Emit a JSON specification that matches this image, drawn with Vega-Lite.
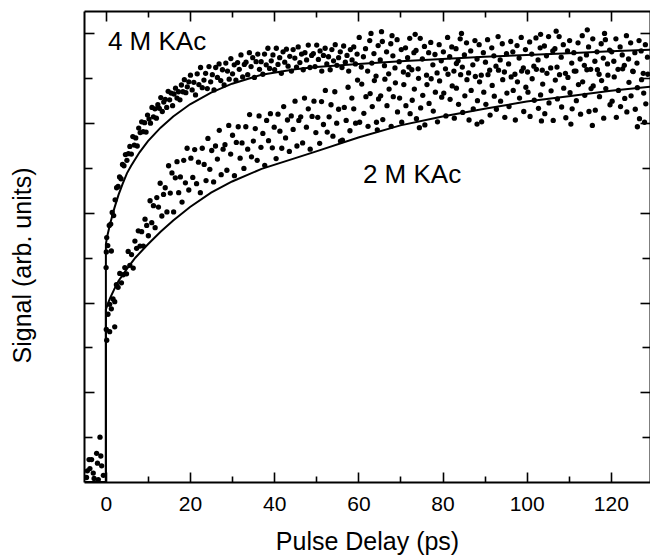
{
"$schema": "https://vega.github.io/schema/vega-lite/v6.json",
"width": 566, "height": 471,
"autosize": {"type": "none"},
"padding": {"left": 84, "top": 11, "right": 0, "bottom": 76},
"background": "white",
"config": {"view": {"stroke": null}, "font": "Liberation Sans",
 "axis": {"domainColor": "black", "domainWidth": 2, "tickColor": "black", "tickWidth": 1.6, "grid": false, "labelColor": "black", "titleColor": "black", "titleFontWeight": "normal", "labelFont": "Liberation Sans", "titleFont": "Liberation Sans"}},
"datasets": {
"fits": [
{"s":"4M","t":-5.5,"v":0},{"s":"4M","t":0,"v":0},{"s":"4M","t":0,"v":5.3},{"s":"4M","t":0.25,"v":5.45},{"s":"4M","t":0.5,"v":5.55},{"s":"4M","t":1,"v":5.75},{"s":"4M","t":2,"v":6.1},{"s":"4M","t":3,"v":6.4},{"s":"4M","t":4,"v":6.65},{"s":"4M","t":5,"v":6.88},{"s":"4M","t":6,"v":7.05},{"s":"4M","t":8,"v":7.35},{"s":"4M","t":10,"v":7.6},{"s":"4M","t":13,"v":7.9},{"s":"4M","t":16,"v":8.15},{"s":"4M","t":20,"v":8.42},{"s":"4M","t":25,"v":8.68},{"s":"4M","t":30,"v":8.88},{"s":"4M","t":37,"v":9.08},{"s":"4M","t":45,"v":9.2},{"s":"4M","t":50,"v":9.25},{"s":"4M","t":60,"v":9.32},{"s":"4M","t":70,"v":9.38},{"s":"4M","t":80,"v":9.43},{"s":"4M","t":90,"v":9.48},{"s":"4M","t":100,"v":9.52},{"s":"4M","t":110,"v":9.56},{"s":"4M","t":120,"v":9.6},{"s":"4M","t":130,"v":9.64},
{"s":"2M","t":-5.5,"v":0},{"s":"2M","t":0,"v":0},{"s":"2M","t":0,"v":3.85},{"s":"2M","t":0.5,"v":3.98},{"s":"2M","t":1,"v":4.1},{"s":"2M","t":2,"v":4.3},{"s":"2M","t":3,"v":4.48},{"s":"2M","t":5,"v":4.75},{"s":"2M","t":7,"v":5.0},{"s":"2M","t":10,"v":5.3},{"s":"2M","t":13,"v":5.58},{"s":"2M","t":16,"v":5.83},{"s":"2M","t":20,"v":6.13},{"s":"2M","t":25,"v":6.45},{"s":"2M","t":30,"v":6.7},{"s":"2M","t":37,"v":6.98},{"s":"2M","t":45,"v":7.22},{"s":"2M","t":50,"v":7.37},{"s":"2M","t":60,"v":7.68},{"s":"2M","t":70,"v":7.95},{"s":"2M","t":80,"v":8.15},{"s":"2M","t":90,"v":8.32},{"s":"2M","t":100,"v":8.48},{"s":"2M","t":110,"v":8.6},{"s":"2M","t":120,"v":8.72},{"s":"2M","t":130,"v":8.82}
],
"m4": [
{"t":-4.6,"v":0.1},{"t":-4.4,"v":0.25},{"t":-4.0,"v":0.5},{"t":-3.8,"v":0.3},{"t":-3.4,"v":0.5},{"t":-3.0,"v":0.2},{"t":-2.8,"v":0.08},{"t":-2.2,"v":0.64},{"t":-2.0,"v":0.42},{"t":-1.8,"v":0.05},{"t":-1.4,"v":1.0},{"t":-1.2,"v":0.58},{"t":-1.0,"v":0.36},{"t":-0.6,"v":0.15},
{"t":0.05,"v":4.78},{"t":0.2,"v":5.45},{"t":1.3,"v":5.15},
{"t":0.1,"v":5.13},{"t":0.45,"v":5.27},{"t":0.8,"v":5.72},{"t":1.15,"v":5.75},{"t":1.5,"v":6.01},{"t":1.85,"v":5.94},{"t":2.2,"v":6.29},{"t":2.55,"v":6.56},{"t":2.9,"v":6.59},{"t":3.25,"v":6.8},{"t":3.6,"v":6.76},{"t":3.95,"v":7.08},{"t":4.3,"v":7.05},{"t":4.65,"v":7.3},{"t":5.0,"v":7.17},{"t":5.35,"v":7.32},{"t":5.7,"v":7.48},{"t":6.05,"v":7.31},{"t":6.4,"v":7.7},{"t":6.75,"v":7.51},{"t":7.1,"v":7.67},{"t":7.45,"v":7.49},{"t":7.8,"v":7.89},{"t":8.15,"v":7.79},{"t":8.5,"v":8.03},{"t":8.85,"v":7.81},{"t":9.2,"v":8.01},{"t":9.55,"v":7.8},{"t":9.9,"v":8.18},{"t":10.25,"v":8.09},{"t":10.6,"v":8.0},{"t":10.95,"v":8.35},{"t":11.3,"v":8.14},{"t":11.65,"v":8.32},{"t":12.0,"v":8.11},{"t":12.35,"v":8.41},{"t":12.7,"v":8.33},{"t":13.05,"v":8.57},{"t":13.4,"v":8.26},{"t":13.75,"v":8.47},{"t":14.1,"v":8.53},{"t":14.45,"v":8.35},{"t":14.8,"v":8.71},{"t":15.15,"v":8.52},{"t":15.5,"v":8.67},{"t":15.85,"v":8.39},{"t":16.2,"v":8.65},{"t":16.55,"v":8.78},{"t":16.9,"v":8.56},{"t":17.25,"v":8.7},{"t":17.6,"v":8.52},{"t":17.95,"v":8.85},{"t":18.3,"v":8.7},{"t":18.65,"v":8.97},{"t":19.0,"v":8.68},{"t":19.35,"v":8.81},{"t":19.7,"v":8.92},
{"t":20.1,"v":9.07},{"t":20.5,"v":8.74},{"t":20.9,"v":8.91},{"t":21.3,"v":8.63},{"t":21.7,"v":9.1},{"t":22.1,"v":8.86},{"t":22.5,"v":9.24},{"t":22.9,"v":8.79},{"t":23.3,"v":8.96},{"t":23.7,"v":9.11},{"t":24.1,"v":8.77},{"t":24.5,"v":9.26},{"t":24.9,"v":8.92},{"t":25.3,"v":9.08},{"t":25.7,"v":8.74},{"t":26.1,"v":9.24},{"t":26.5,"v":9.02},{"t":26.9,"v":9.32},{"t":27.3,"v":8.95},{"t":27.7,"v":9.19},{"t":28.1,"v":8.85},{"t":28.5,"v":9.34},{"t":28.9,"v":9.16},{"t":29.3,"v":8.98},{"t":29.7,"v":9.44},{"t":30.1,"v":9.1},{"t":30.5,"v":9.3},{"t":30.9,"v":8.96},{"t":31.3,"v":9.35},{"t":31.7,"v":9.2},{"t":32.1,"v":9.52},{"t":32.5,"v":9.03},{"t":32.9,"v":9.31},{"t":33.3,"v":9.36},{"t":33.7,"v":9.08},{"t":34.1,"v":9.57},{"t":34.5,"v":9.26},{"t":34.9,"v":9.46},{"t":35.3,"v":9.02},{"t":35.7,"v":9.37},{"t":36.1,"v":9.54},{"t":36.5,"v":9.2},{"t":36.9,"v":9.37},{"t":37.3,"v":9.09},{"t":37.7,"v":9.54},{"t":38.1,"v":9.3},{"t":38.5,"v":9.67},{"t":38.9,"v":9.22},{"t":39.3,"v":9.39},{"t":39.7,"v":9.52},{"t":40.1,"v":9.19},{"t":40.5,"v":9.67},{"t":40.9,"v":9.31},{"t":41.3,"v":9.46},{"t":41.7,"v":9.11},{"t":42.1,"v":9.59},{"t":42.5,"v":9.36},{"t":42.9,"v":9.65},{"t":43.3,"v":9.27},{"t":43.7,"v":9.49},{"t":44.1,"v":9.16},{"t":44.5,"v":9.64},{"t":44.9,"v":9.45},{"t":45.3,"v":9.25},{"t":45.7,"v":9.7},{"t":46.1,"v":9.35},{"t":46.5,"v":9.54},{"t":46.9,"v":9.19},{"t":47.3,"v":9.57},{"t":47.7,"v":9.41},{"t":48.1,"v":9.74},{"t":48.5,"v":9.24},{"t":48.9,"v":9.51},{"t":49.3,"v":9.55},{"t":49.7,"v":9.26},{"t":50.1,"v":9.74},{"t":50.5,"v":9.42},{"t":50.9,"v":9.61},{"t":51.3,"v":9.16},{"t":51.7,"v":9.51},{"t":52.1,"v":9.67},{"t":52.5,"v":9.32},{"t":52.9,"v":9.48},{"t":53.3,"v":9.19},{"t":53.7,"v":9.64},{"t":54.1,"v":9.39},{"t":54.5,"v":9.75},{"t":54.9,"v":9.29},{"t":55.3,"v":9.46},{"t":55.7,"v":9.59},{"t":56.1,"v":9.24},{"t":56.5,"v":9.72},{"t":56.9,"v":9.36},{"t":57.3,"v":9.51},{"t":57.7,"v":9.16},{"t":58.1,"v":9.64},{"t":58.5,"v":9.41},{"t":58.9,"v":9.7},{"t":59.3,"v":9.32},{"t":59.7,"v":9.54},
{"t":60.2,"v":9.91},{"t":60.7,"v":9.25},{"t":61.2,"v":9.48},{"t":61.7,"v":9.66},{"t":62.2,"v":9.16},{"t":62.7,"v":9.84},{"t":63.2,"v":9.34},{"t":63.7,"v":9.55},{"t":64.2,"v":9.05},{"t":64.7,"v":9.73},{"t":65.2,"v":9.41},{"t":65.7,"v":9.82},{"t":66.2,"v":9.28},{"t":66.7,"v":9.59},{"t":67.2,"v":9.1},{"t":67.7,"v":9.77},{"t":68.2,"v":9.5},{"t":68.7,"v":9.23},{"t":69.2,"v":9.86},{"t":69.7,"v":9.37},{"t":70.2,"v":9.64},{"t":70.7,"v":9.14},{"t":71.2,"v":9.68},{"t":71.7,"v":9.46},{"t":72.2,"v":9.89},{"t":72.7,"v":9.19},{"t":73.2,"v":9.57},{"t":73.7,"v":9.62},{"t":74.2,"v":9.21},{"t":74.7,"v":9.89},{"t":75.2,"v":9.43},{"t":75.7,"v":9.71},{"t":76.2,"v":9.07},{"t":76.7,"v":9.57},{"t":77.2,"v":9.8},{"t":77.7,"v":9.3},{"t":78.2,"v":9.53},{"t":78.7,"v":9.12},{"t":79.2,"v":9.75},{"t":79.7,"v":9.39},
{"t":80.2,"v":9.59},{"t":80.7,"v":9.21},{"t":81.2,"v":9.91},{"t":81.7,"v":9.48},{"t":82.2,"v":9.7},{"t":82.7,"v":9.16},{"t":83.2,"v":9.66},{"t":83.7,"v":9.39},{"t":84.2,"v":9.88},{"t":84.7,"v":9.25},{"t":85.2,"v":9.52},{"t":85.7,"v":9.79},{"t":86.2,"v":9.12},{"t":86.7,"v":9.61},{"t":87.2,"v":9.3},{"t":87.7,"v":9.84},{"t":88.2,"v":9.43},{"t":88.7,"v":9.75},{"t":89.2,"v":9.07},{"t":89.7,"v":9.57},{"t":90.2,"v":9.36},{"t":90.7,"v":9.86},{"t":91.2,"v":9.18},{"t":91.7,"v":9.68},{"t":92.2,"v":9.5},{"t":92.7,"v":9.27},{"t":93.2,"v":9.93},{"t":93.7,"v":9.41},{"t":94.2,"v":9.77},{"t":94.7,"v":9.14},{"t":95.2,"v":9.55},{"t":95.7,"v":9.32},{"t":96.2,"v":9.82},{"t":96.7,"v":9.59},{"t":97.2,"v":9.09},{"t":97.7,"v":9.73},{"t":98.2,"v":9.45},{"t":98.7,"v":9.91},{"t":99.2,"v":9.23},{"t":99.7,"v":9.64},
{"t":100.2,"v":9.14},{"t":100.7,"v":9.81},{"t":101.2,"v":9.54},{"t":101.7,"v":9.27},{"t":102.2,"v":9.9},{"t":102.7,"v":9.41},{"t":103.2,"v":9.68},{"t":103.7,"v":9.18},{"t":104.2,"v":9.72},{"t":104.7,"v":9.5},{"t":105.2,"v":9.93},{"t":105.7,"v":9.23},{"t":106.2,"v":9.61},{"t":106.7,"v":9.66},{"t":107.2,"v":9.25},{"t":107.7,"v":9.93},{"t":108.2,"v":9.47},{"t":108.7,"v":9.75},{"t":109.2,"v":9.11},{"t":109.7,"v":9.61},{"t":110.2,"v":9.84},{"t":110.7,"v":9.34},{"t":111.2,"v":9.57},{"t":111.7,"v":9.16},{"t":112.2,"v":9.79},{"t":112.7,"v":9.43},{"t":113.2,"v":9.95},{"t":113.7,"v":9.29},{"t":114.2,"v":9.52},{"t":114.7,"v":9.7},{"t":115.2,"v":9.2},{"t":115.7,"v":9.88},{"t":116.2,"v":9.38},{"t":116.7,"v":9.59},{"t":117.2,"v":9.09},{"t":117.7,"v":9.77},{"t":118.2,"v":9.45},{"t":118.7,"v":9.86},{"t":119.2,"v":9.32},{"t":119.7,"v":9.63},
{"t":120.2,"v":9.59},{"t":120.7,"v":9.38},{"t":121.2,"v":9.88},{"t":121.7,"v":9.2},{"t":122.2,"v":9.7},{"t":122.7,"v":9.52},{"t":123.2,"v":9.29},{"t":123.7,"v":9.95},{"t":124.2,"v":9.43},{"t":124.7,"v":9.79},{"t":125.2,"v":9.16},{"t":125.7,"v":9.57},{"t":126.2,"v":9.34},{"t":126.7,"v":9.84},{"t":127.2,"v":9.61},{"t":127.7,"v":9.11},{"t":128.2,"v":9.75},{"t":128.7,"v":9.47},
{"t":63.0,"v":10.0},{"t":65.5,"v":10.04},{"t":68.0,"v":9.95},{"t":73.5,"v":9.98},{"t":84.5,"v":10.0},{"t":103.3,"v":9.98},{"t":107.0,"v":10.05},{"t":114.4,"v":10.08},{"t":118.5,"v":10.0}
],
"m2": [
{"t":0.2,"v":3.16},{"t":0.9,"v":3.35},{"t":2.1,"v":3.46},
{"t":0.1,"v":3.4},{"t":0.5,"v":3.74},{"t":0.9,"v":3.96},{"t":1.3,"v":3.86},{"t":1.7,"v":4.08},{"t":2.1,"v":4.02},{"t":2.5,"v":4.4},{"t":2.9,"v":4.34},{"t":3.3,"v":4.65},{"t":3.7,"v":4.44},{"t":4.1,"v":4.62},{"t":4.5,"v":4.78},{"t":4.9,"v":4.64},{"t":5.3,"v":5.14},{"t":5.7,"v":4.83},{"t":6.1,"v":5.07},{"t":6.5,"v":4.77},{"t":6.9,"v":5.37},{"t":7.3,"v":5.21},{"t":7.7,"v":5.6},{"t":8.1,"v":5.26},{"t":8.5,"v":5.58},{"t":8.9,"v":5.26},{"t":9.3,"v":5.86},{"t":9.7,"v":5.72},{"t":10.1,"v":5.49},{"t":10.5,"v":6.27},{"t":10.9,"v":5.78},{"t":11.3,"v":6.16},{"t":11.7,"v":5.67},{"t":12.1,"v":6.34},{"t":12.5,"v":6.13},{"t":12.9,"v":6.66},{"t":13.3,"v":5.93},{"t":13.7,"v":6.41},{"t":14.1,"v":6.56},{"t":14.5,"v":6.02},{"t":14.9,"v":7.05},{"t":15.3,"v":6.44},{"t":15.7,"v":6.89},{"t":16.1,"v":6.02},{"t":16.5,"v":6.78},{"t":16.9,"v":7.14},{"t":17.3,"v":6.45},{"t":17.7,"v":6.8},{"t":18.1,"v":6.24},{"t":18.5,"v":7.17},{"t":18.9,"v":6.67},{"t":19.3,"v":7.44},{"t":19.7,"v":6.51},
{"t":20.2,"v":7.22},{"t":20.65,"v":6.79},{"t":21.1,"v":7.41},{"t":21.55,"v":6.65},{"t":22.0,"v":7.13},{"t":22.45,"v":6.45},{"t":22.9,"v":7.44},{"t":23.35,"v":7.08},{"t":23.8,"v":6.72},{"t":24.25,"v":7.66},{"t":24.7,"v":6.97},{"t":25.15,"v":7.39},{"t":25.6,"v":6.69},{"t":26.05,"v":7.49},{"t":26.5,"v":7.2},{"t":26.95,"v":7.84},{"t":27.4,"v":6.85},{"t":27.85,"v":7.42},{"t":28.3,"v":7.52},{"t":28.75,"v":6.95},{"t":29.2,"v":7.95},{"t":29.65,"v":7.31},{"t":30.1,"v":7.73},{"t":30.55,"v":6.83},{"t":31.0,"v":7.57},{"t":31.45,"v":7.92},{"t":31.9,"v":7.22},{"t":32.35,"v":7.56},{"t":32.8,"v":6.99},{"t":33.25,"v":7.92},{"t":33.7,"v":7.42},{"t":34.15,"v":8.19},{"t":34.6,"v":7.25},{"t":35.05,"v":7.6},{"t":35.5,"v":7.88},{"t":35.95,"v":7.17},{"t":36.4,"v":8.16},{"t":36.85,"v":7.46},{"t":37.3,"v":7.77},{"t":37.75,"v":7.06},{"t":38.2,"v":8.06},{"t":38.65,"v":7.61},{"t":39.1,"v":8.21},{"t":39.55,"v":7.45},{"t":40.0,"v":7.91},{"t":40.45,"v":7.21},{"t":40.9,"v":8.2},{"t":41.35,"v":7.82},{"t":41.8,"v":7.44},{"t":42.25,"v":8.37},{"t":42.7,"v":7.67},{"t":43.15,"v":8.07},{"t":43.6,"v":7.37},{"t":44.05,"v":8.16},{"t":44.5,"v":7.86},{"t":44.95,"v":8.49},{"t":45.4,"v":7.49},{"t":45.85,"v":8.06},{"t":46.3,"v":8.14},{"t":46.75,"v":7.56},{"t":47.2,"v":8.56},{"t":47.65,"v":7.91},{"t":48.1,"v":8.32},{"t":48.55,"v":7.42},{"t":49.0,"v":8.15},{"t":49.45,"v":8.49},{"t":49.9,"v":7.79},{"t":50.35,"v":8.13},{"t":50.8,"v":7.55},{"t":51.25,"v":8.48},{"t":51.7,"v":7.97},{"t":52.15,"v":8.73},{"t":52.6,"v":7.8},{"t":53.05,"v":8.14},{"t":53.5,"v":8.41},{"t":53.95,"v":7.71},{"t":54.4,"v":8.7},{"t":54.85,"v":8.0},{"t":55.3,"v":8.31},{"t":55.75,"v":7.6},{"t":56.2,"v":7.62},{"t":56.65,"v":8.35},{"t":57.1,"v":8.06},{"t":57.55,"v":8.8},{"t":58.0,"v":7.83},{"t":58.45,"v":8.56},{"t":58.9,"v":8.32},{"t":59.35,"v":8.0},{"t":59.8,"v":8.96},
{"t":60.3,"v":8.02},{"t":60.8,"v":8.87},{"t":61.3,"v":8.22},{"t":61.8,"v":8.59},{"t":62.3,"v":7.93},{"t":62.8,"v":8.66},{"t":63.3,"v":8.37},{"t":63.8,"v":8.95},{"t":64.3,"v":8.02},{"t":64.8,"v":8.54},{"t":65.3,"v":8.61},{"t":65.8,"v":8.08},{"t":66.3,"v":8.98},{"t":66.8,"v":8.39},{"t":67.3,"v":8.76},{"t":67.8,"v":7.93},{"t":68.3,"v":8.59},{"t":68.8,"v":8.9},{"t":69.3,"v":8.25},{"t":69.8,"v":8.56},{"t":70.3,"v":8.02},{"t":70.8,"v":8.86},{"t":71.3,"v":8.39},{"t":71.8,"v":9.08},{"t":72.3,"v":8.21},{"t":72.8,"v":8.51},{"t":73.3,"v":8.76},{"t":73.8,"v":8.1},{"t":74.3,"v":9.0},{"t":74.8,"v":8.34},{"t":75.3,"v":8.62},{"t":75.8,"v":7.96},{"t":76.3,"v":8.86},{"t":76.8,"v":8.44},{"t":77.3,"v":8.99},{"t":77.8,"v":8.27},{"t":78.3,"v":8.69},{"t":78.8,"v":8.03},{"t":79.3,"v":8.94},{"t":79.8,"v":8.58},
{"t":80.3,"v":8.67},{"t":80.8,"v":8.16},{"t":81.3,"v":9.09},{"t":81.8,"v":8.53},{"t":82.3,"v":8.83},{"t":82.8,"v":8.11},{"t":83.3,"v":8.78},{"t":83.8,"v":8.42},{"t":84.3,"v":9.08},{"t":84.8,"v":8.24},{"t":85.3,"v":8.61},{"t":85.8,"v":8.97},{"t":86.3,"v":8.07},{"t":86.8,"v":8.73},{"t":87.3,"v":8.32},{"t":87.8,"v":9.04},{"t":88.3,"v":8.5},{"t":88.8,"v":8.92},{"t":89.3,"v":8.03},{"t":89.8,"v":8.69},{"t":90.3,"v":8.42},{"t":90.8,"v":9.08},{"t":91.3,"v":8.18},{"t":91.8,"v":8.84},{"t":92.3,"v":8.6},{"t":92.8,"v":8.31},{"t":93.3,"v":9.18},{"t":93.8,"v":8.49},{"t":94.3,"v":8.97},{"t":94.8,"v":8.13},{"t":95.3,"v":8.67},{"t":95.8,"v":8.37},{"t":96.3,"v":9.03},{"t":96.8,"v":8.73},{"t":97.3,"v":8.07},{"t":97.8,"v":8.92},{"t":98.3,"v":8.56},{"t":98.8,"v":9.16},{"t":99.3,"v":8.26},{"t":99.8,"v":8.8},
{"t":100.3,"v":8.69},{"t":100.8,"v":8.15},{"t":101.3,"v":8.99},{"t":101.8,"v":8.51},{"t":102.3,"v":9.2},{"t":102.8,"v":8.33},{"t":103.3,"v":8.63},{"t":103.8,"v":8.87},{"t":104.3,"v":8.21},{"t":104.8,"v":9.11},{"t":105.3,"v":8.45},{"t":105.8,"v":8.72},{"t":106.3,"v":8.06},{"t":106.8,"v":8.96},{"t":107.3,"v":8.54},{"t":107.8,"v":9.08},{"t":108.3,"v":8.36},{"t":108.8,"v":8.78},{"t":109.3,"v":8.12},{"t":109.8,"v":9.02},{"t":110.3,"v":8.68},{"t":110.8,"v":8.32},{"t":111.3,"v":9.16},{"t":111.8,"v":8.5},{"t":112.3,"v":8.86},{"t":112.8,"v":8.2},{"t":113.3,"v":8.92},{"t":113.8,"v":8.62},{"t":114.3,"v":9.19},{"t":114.8,"v":8.26},{"t":115.3,"v":8.77},{"t":115.8,"v":8.83},{"t":116.3,"v":8.29},{"t":116.8,"v":9.19},{"t":117.3,"v":8.59},{"t":117.8,"v":8.95},{"t":118.3,"v":8.11},{"t":118.8,"v":8.77},{"t":119.3,"v":9.07},{"t":119.8,"v":8.41},
{"t":120.3,"v":8.49},{"t":120.8,"v":9.03},{"t":121.3,"v":8.13},{"t":121.8,"v":8.73},{"t":122.3,"v":8.37},{"t":122.8,"v":9.21},{"t":123.3,"v":8.55},{"t":123.8,"v":8.25},{"t":124.3,"v":8.91},{"t":124.8,"v":8.61},{"t":125.3,"v":9.15},{"t":125.8,"v":8.31},{"t":126.3,"v":8.79},{"t":126.8,"v":8.1},{"t":127.3,"v":8.97},{"t":127.8,"v":8.67},{"t":128.3,"v":8.43},{"t":128.8,"v":9.09},
{"t":64.5,"v":7.85},{"t":74.5,"v":7.9},{"t":88.2,"v":7.98},{"t":103.5,"v":8.05},{"t":110.5,"v":7.98},{"t":115.6,"v":7.95},{"t":126.3,"v":7.92},{"t":128.0,"v":8.02},{"t":72.0,"v":9.25},{"t":83.3,"v":9.33}
],
"labels": [{"t":0.48,"v":9.63,"txt":"4 M KAc"},{"t":61.07,"v":6.67,"txt":"2 M KAc"}]
},
"layer": [
{"data": {"name": "fits"},
 "mark": {"type": "line", "color": "black", "strokeWidth": 2, "clip": true},
 "encoding": {
  "x": {"field": "t", "type": "quantitative", "scale": {"domain": [-5.2, 129.3], "nice": false, "zero": false}, "axis": null},
  "y": {"field": "v", "type": "quantitative", "scale": {"domain": [0, 10.5], "nice": false, "zero": false}, "axis": null},
  "detail": {"field": "s"},
  "order": {"value": null}}},
{"data": {"name": "m4"},
 "mark": {"type": "circle", "color": "black", "opacity": 1, "size": 28, "clip": true},
 "encoding": {
  "x": {"field": "t", "type": "quantitative", "scale": {"domain": [-5.2, 129.3], "nice": false, "zero": false},
   "axis": {"orient": "bottom", "values": [0,10,20,30,40,50,60,70,80,90,100,110,120], "labelExpr": "datum.value % 20 === 0 ? datum.label : ''",
    "tickSize": {"condition": {"test": "datum.value % 20 === 0", "value": -10}, "value": -6},
    "labelFontSize": 21, "labelPadding": 21, "labelBaseline": "top",
    "title": "Pulse Delay (ps)", "titleFontSize": 25, "titleY": 59, "titleBaseline": "middle"}},
  "y": {"field": "v", "type": "quantitative", "scale": {"domain": [0, 10.5], "nice": false, "zero": false},
   "axis": {"orient": "left", "values": [1,2,3,4,5,6,7,8,9,10], "labels": false,
    "tickSize": {"condition": {"test": "datum.value % 2 === 0", "value": -10}, "value": -8},
    "title": "Signal (arb. units)", "titleFontSize": 25, "titleX": -62, "titleY": 254, "titleBaseline": "middle", "titleAlign": "center", "titleAngle": 270}}}},
{"data": {"name": "m2"},
 "mark": {"type": "circle", "color": "black", "opacity": 1, "size": 28, "clip": true},
 "encoding": {
  "x": {"field": "t", "type": "quantitative", "scale": {"domain": [-5.2, 129.3], "nice": false, "zero": false},
   "axis": {"orient": "top", "values": [0,10,20,30,40,50,60,70,80,90,100,110,120], "labels": false, "title": null,
    "tickSize": {"condition": {"test": "datum.value % 20 === 0", "value": -10}, "value": -6}}},
  "y": {"field": "v", "type": "quantitative", "scale": {"domain": [0, 10.5], "nice": false, "zero": false},
   "axis": {"orient": "right", "values": [1,2,3,4,5,6,7,8,9,10], "labels": false, "title": null,
    "tickSize": {"condition": {"test": "datum.value % 2 === 0", "value": -10}, "value": -8}}}}},
{"data": {"name": "labels"},
 "mark": {"type": "text", "align": "left", "baseline": "alphabetic", "fontSize": 26, "font": "Liberation Sans", "color": "black"},
 "encoding": {
  "x": {"field": "t", "type": "quantitative", "scale": {"domain": [-5.2, 129.3], "nice": false, "zero": false}, "axis": null},
  "y": {"field": "v", "type": "quantitative", "scale": {"domain": [0, 10.5], "nice": false, "zero": false}, "axis": null},
  "text": {"field": "txt"}}}
],
"resolve": {"axis": {"x": "independent", "y": "independent"}}
}
